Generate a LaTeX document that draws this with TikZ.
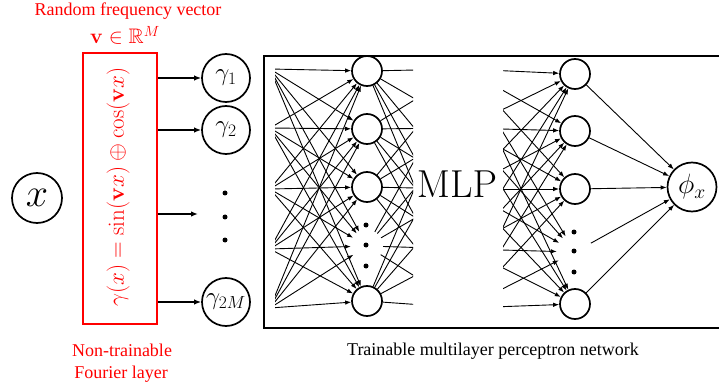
\RequirePackage{fix-cm}
\documentclass[tikz,border=0pt]{standalone}
\usepackage{amsmath,amssymb}
\usepackage[no-math]{fontspec}
\setmainfont{Liberation Serif}
\usetikzlibrary{arrows.meta}
\begin{document}
\begin{tikzpicture}[x=1pt,y=-1pt,
  neuron/.style={circle,draw,line width=1.7pt,minimum size=30pt,inner sep=0pt,fill=white},
  ghost/.style={circle,minimum size=32pt,inner sep=0pt},
  gnode/.style={circle,draw,line width=1.7pt,minimum size=48pt,inner sep=0pt,font=\fontsize{25}{26}\selectfont},
  conn/.style={line width=0.9pt,-{Latex[length=6pt,width=4.5pt]}},
  plainline/.style={line width=0.9pt},
  bigarrow/.style={line width=1.6pt,-{Latex[length=7pt,width=5.5pt]}},
  lbl/.style={text=red,font=\fontsize{18}{21}\selectfont,anchor=base},
  dotmark/.style={circle,fill,inner sep=0pt,minimum size=5pt}]
\useasboundingbox (0,0) rectangle (719,387);

% input
\node[circle,draw,line width=1.7pt,minimum size=50pt,inner sep=0pt,font=\fontsize{40}{40}\selectfont] (xin) at (37,198) {$x$};

% Fourier layer
\node[draw=red,line width=1.8pt,minimum width=74pt,minimum height=271pt,inner sep=0pt] (four) at (120,188.5) {};
\node[rotate=90,text=red,font=\fontsize{23}{23}\selectfont] (formula) at (118,187) {$\gamma(x)=\sin(\mathbf{v}x)\oplus\cos(\mathbf{v}x)$};
\node[lbl] (rfv) at (128,15.5) {Random frequency vector};
\node[lbl,font=\fontsize{21}{21}\selectfont] (vR) at (125,44) {$\mathbf{v}\in\mathbb{R}^M$};
\node[lbl] (nt) at (122,356) {Non-trainable};
\node[lbl] (fl) at (121,378) {Fourier layer};

% gamma nodes
\node[gnode] (g1) at (226,78) {$\gamma_1$};
\node[gnode] (g2) at (226,130) {$\gamma_2$};
\node[gnode] (g3) at (226,302) {$\gamma_{2M}$};
\node[dotmark] (gd1) at (225,193) {};
\node[dotmark] (gd2) at (225,217) {};
\node[dotmark] (gd3) at (225,240) {};
\coordinate (gd) at (198,214);
\draw[bigarrow] (four.east |- g1) -- (g1);
\draw[bigarrow] (four.east |- g2) -- (g2);
\draw[bigarrow] (four.east |- gd) -- (gd);
\draw[bigarrow] (four.east |- g3) -- (g3);

% MLP frame
\draw[line width=1.8pt] (730,56) -- (264,56) -- (264,328) -- (730,328);
\node[font=\fontsize{39}{39}\selectfont,anchor=base] (mlp) at (457,197) {$\mathrm{MLP}$};
\node[font=\fontsize{18}{21}\selectfont,anchor=base] (cap) at (493,355) {Trainable multilayer perceptron network};

% neurons
\node[neuron] (n11) at (367,71) {};
\node[neuron] (n12) at (367,129) {};
\node[neuron] (n13) at (367,187) {};
\node[ghost] (n14) at (367,246) {};
\node[neuron] (n15) at (367,301) {};
\node[dotmark] at (366,225) {};
\node[dotmark] at (366,245) {};
\node[dotmark] at (366,266) {};
\node[neuron] (n21) at (575,74) {};
\node[neuron] (n22) at (575,131) {};
\node[neuron] (n23) at (575,189) {};
\node[ghost,minimum size=36pt] (n24) at (575,252) {};
\node[neuron] (n25) at (575,304) {};
\node[dotmark] at (574,232) {};
\node[dotmark] at (574,251) {};
\node[dotmark] at (574,272) {};
\node[circle,draw,line width=1.7pt,minimum size=49pt,inner sep=0pt,font=\fontsize{28}{28}\selectfont] (phi) at (692,187) {$\phi_x$};

% virtual layers
\foreach \i/\y in {1/69,2/128,3/189,4/249,5/308}{
  \coordinate (va\i) at (270,\y);
  \coordinate (vb\i) at (465,\y);
}

\begin{scope}
\clip (275,0) rectangle (413,387);
\foreach \i in {1,...,5}{
  \foreach \j in {1,...,5}{
    \draw[conn] (va\i) -- (n1\j);
    \draw[plainline] (n1\j) -- (vb\i);
  }
}
\end{scope}
\begin{scope}
\clip (503,0) rectangle (719,387);
\foreach \i in {1,...,5}{
  \foreach \j in {1,...,5}{
    \draw[conn] (vb\i) -- (n2\j);
  }
}
\end{scope}
\foreach \j in {1,...,5}{
  \draw[conn] (n2\j) -- (phi);
}
\end{tikzpicture}
\end{document}
